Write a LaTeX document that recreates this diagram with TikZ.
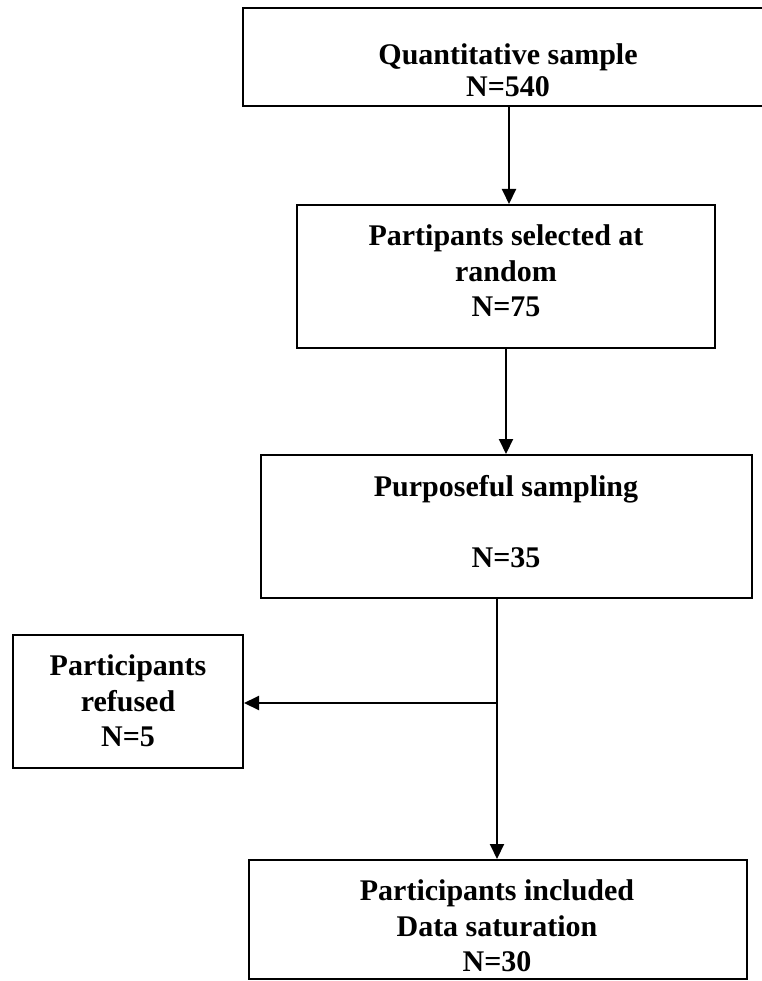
\documentclass[tikz,border=0pt]{standalone}
\usepackage{fontspec}
\setmainfont{Liberation Serif}
\usetikzlibrary{arrows.meta}
\begin{document}
\begin{tikzpicture}[x=1pt,y=-1pt,
  box/.style={draw,line width=2pt,rectangle,inner sep=0pt},
  txt/.style={align=center,inner sep=0pt,font=\bfseries\fontsize{30}{35.5}\selectfont},
  conn/.style={line width=2pt},
  arr/.style={line width=2pt,-{Triangle[width=14pt,length=15pt]}}]
\useasboundingbox (0,0) rectangle (761,981);
% boxes
\node[box,minimum width=532pt,minimum height=98pt] (b1) at (509,57) {};
\node[box,minimum width=418pt,minimum height=143pt] (b2) at (506,276.5) {};
\node[box,minimum width=491pt,minimum height=143pt] (b3) at (506.5,526.5) {};
\node[box,minimum width=230pt,minimum height=133pt] (b4) at (128,701.5) {};
\node[box,minimum width=498pt,minimum height=119pt] (b5) at (498,919.5) {};
% texts
\node[txt,font=\bfseries\fontsize{30}{32.5}\selectfont] (t1) at (508,70) {Quantitative sample\\N=540};
\node[txt] (t2) at (506,271) {Partipants selected at\\random\\N=75};
\node[txt] (t3) at (506,522) {Purposeful sampling\\[35.5pt]N=35};
\node[txt] (t4) at (128,701) {Participants\\refused\\N=5};
\node[txt] (t5) at (497,926) {Participants included\\Data saturation\\N=30};
% connectors
\coordinate (j) at (497,703);
\draw[arr] (b1.south) -- (b1.south |- b2.north);
\draw[arr] (b2.south) -- (b2.south |- b3.north);
\draw[conn] (b3.south -| j) -- (j);
\draw[arr] (j) -- (j |- b5.north);
\draw[arr] (j) -- (j -| b4.east);
\end{tikzpicture}
\end{document}
